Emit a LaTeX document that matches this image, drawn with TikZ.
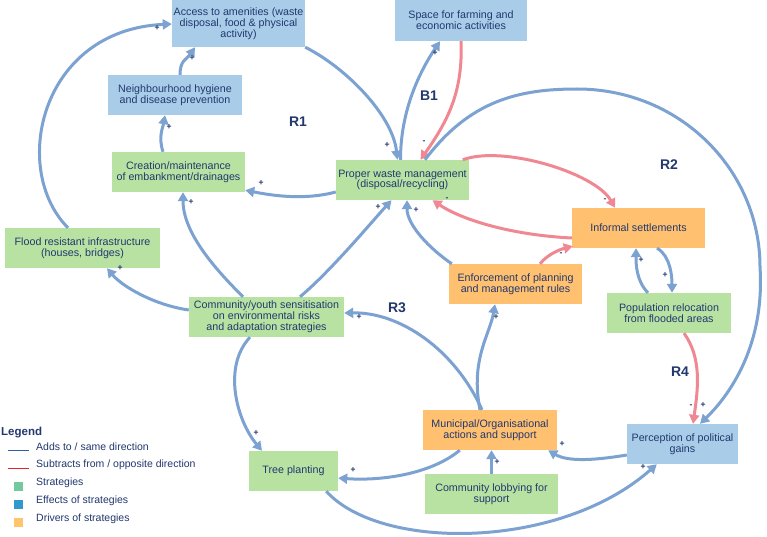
\documentclass[tikz,border=0pt]{standalone}
\usepackage{fontspec}
\setmainfont{Liberation Sans}
\usetikzlibrary{arrows.meta}
\definecolor{txtnavy}{HTML}{22386E}
\definecolor{stratgreen}{HTML}{B8E2A2}
\definecolor{effblue}{HTML}{A9CDE9}
\definecolor{drvorange}{HTML}{FFC070}
\definecolor{linkblue}{HTML}{7BA2D1}
\definecolor{linkred}{HTML}{EF8892}
\definecolor{stratkey}{HTML}{72C99E}
\definecolor{effkey}{HTML}{3398CB}
\definecolor{drvkey}{HTML}{FFC46E}
\definecolor{legblue}{HTML}{2E5FAA}
\definecolor{legred}{HTML}{E3242B}
\tikzset{
  box/.style={rectangle,inner sep=0pt,align=center,text=txtnavy,
    minimum width=133pt,minimum height=40pt,
    font=\fontsize{10.7}{10.8}\selectfont},
  strat/.style={box,fill=stratgreen},
  effect/.style={box,fill=effblue},
  driver/.style={box,fill=drvorange},
  plus/.style={-{Triangle[length=9pt,width=10pt]},line width=3pt,draw=linkblue},
  minus/.style={plus,draw=linkred},
  sgn/.style={font=\fontsize{8.5}{9}\selectfont\bfseries,text=txtnavy,inner sep=0pt},
  loopname/.style={font=\fontsize{14}{14}\selectfont\bfseries,text=txtnavy,inner sep=0pt},
  legtext/.style={anchor=west,inner sep=0pt,text=txtnavy,font=\fontsize{10.5}{11}\selectfont}
}
\begin{document}
\begin{tikzpicture}[x=1pt,y=-1pt]
\useasboundingbox[fill=white] (0,0) rectangle (767,537);
% effects
\node[effect,minimum height=47pt] (amen) at (238.5,23.5) {Access to amenities (waste\\disposal, food \& physical\\activity)};
\node[effect,minimum width=132pt,minimum height=41pt] (space) at (461,20.5) {Space for farming and\\economic activities};
\node[effect,minimum width=134pt] (hyg) at (175,95) {Neighbourhood hygiene\\and disease prevention};
\node[effect,minimum width=111pt] (percep) at (682.5,444) {Perception of political\\gains};
% strategies
\node[strat] (emb) at (178.5,172) {Creation/maintenance\\of embankment/drainages};
\node[strat] (waste) at (402.5,180) {Proper waste management\\(disposal/recycling)};
\node[strat,minimum width=155pt] (flood) at (82.5,248) {Flood resistant infrastructure\\(houses, bridges)};
\node[strat,minimum width=155pt] (youth) at (266.5,317) {Community/youth sensitisation\\on environmental risks\\and adaptation strategies};
\node[strat,minimum width=124pt] (reloc) at (669,313) {Population relocation\\from flooded areas};
\node[strat,minimum width=89pt] (tree) at (293.5,471) {Tree planting};
\node[strat] (lobby) at (491.5,494) {Community lobbying for\\support};
% drivers
\node[driver] (informal) at (638.5,228) {Informal settlements};
\node[driver] (enforce) at (515.5,284) {Enforcement of planning\\and management rules};
\node[driver,minimum width=134pt] (munic) at (490,430) {Municipal/Organisational\\actions and support};
% loop names
\node[loopname] (r1) at (298,122) {R1};
\node[loopname] (b1) at (429,96) {B1};
\node[loopname] (r2) at (669,165) {R2};
\node[loopname] (r3) at (397,308) {R3};
\node[loopname] (r4) at (680,372) {R4};
% links
\draw[plus] ([xshift=-14.5pt]flood.north) .. controls +(-58,-58) and +(-132,6) .. ([yshift=-0.5pt]amen.west);
\draw[plus] ([xshift=5pt]hyg.north) .. controls +(0,-15) and +(-8,12) .. ([xshift=-43.5pt]amen.south);
\draw[plus] ([xshift=-15.5pt]emb.north) .. controls +(-5,-15) and +(-2,12) .. ([xshift=-10pt]hyg.south);
\draw[plus] (amen.south east) .. controls +(40,20) and +(-5,-45) .. ([xshift=-5pt]waste.north);
\draw[plus] ([yshift=-12pt]waste.west) .. controls +(-30,8) and +(30,6) .. ([yshift=2pt]emb.south east);
\draw[plus] ([xshift=-23.5pt]youth.north) .. controls +(-25,-25) and +(0,42) .. ([xshift=4.5pt]emb.south);
\draw[plus] ([xshift=33.5pt]youth.north) .. controls +(30,-25) and +(-20,22) .. ([xshift=-11pt]waste.south);
\draw[plus] ([yshift=7pt]youth.west) .. controls +(-35,-5) and +(15,18) .. ([xshift=24.5pt]flood.south);
\draw[plus] ([xshift=-2pt]waste.north) .. controls +(0,-50) and +(-20,30) .. ([xshift=-21pt]space.south);
\draw[minus] (space.south) .. controls +(2,50) and +(28,-40) .. ([xshift=18pt]waste.north);
\coordinate (arctop) at (577,89);
\coordinate (arcright) at (760,267);
\draw[plus] ([xshift=22.5pt]waste.north) .. controls +(45,-60) and +(-57,0) .. (arctop)
  .. controls +(103,0) and +(0,-97) .. (arcright)
  .. controls +(5,78) and +(30,-29) .. ([xshift=17.5pt]percep.north);
\draw[minus] ([xshift=-6.5pt]waste.north east) .. controls +(40,-15) and +(-20,-35) .. ([xshift=-23.5pt]informal.north);
\draw[minus] ([yshift=-10pt]informal.west) .. controls +(-60,-3) and +(30,20) .. ([xshift=30pt]waste.south);
\draw[minus] ([xshift=24.5pt]enforce.north) .. controls +(8,-10) and +(-12,3) .. ([xshift=1pt,yshift=2pt]informal.south west);
\draw[plus] ([xshift=3pt]enforce.north west) .. controls +(-22,-15) and +(0,25) .. ([xshift=4.5pt]waste.south);
\draw[plus] ([xshift=-10pt]munic.north) .. controls +(-10,-50) and +(-5,30) .. ([xshift=-20.5pt]enforce.south);
\draw[plus] ([xshift=-8pt]munic.north) .. controls +(-27,-60) and +(56,-1) .. ([yshift=4pt]youth.east);
\draw[plus] ([xshift=-16.5pt]youth.south) .. controls +(-28,30) and +(-25,-30) .. ([xshift=-31.5pt]tree.north);
\draw[plus] ([xshift=37pt]munic.south west) .. controls +(-30,25) and +(40,3) .. ([yshift=-7pt]tree.east);
\draw[plus] (lobby.north) -- (lobby.north |- munic.south);
\draw[plus] ([yshift=-11pt]percep.west) .. controls +(-30,5) and +(20,12) .. ([xshift=-9pt]munic.south east);
\draw[plus] ([xshift=-12pt]tree.south east) .. controls +(54,60) and +(-97,86) .. ([xshift=30pt]percep.south west);
\draw[minus] ([xshift=15pt]reloc.south) .. controls +(18,25) and +(5,-35) .. ([xshift=10.5pt]percep.north);
\draw[plus] ([xshift=18.5pt]informal.south) .. controls +(14,8) and +(0,-15) .. ([xshift=3pt]reloc.north);
\draw[plus] ([xshift=-21pt]reloc.north) .. controls +(-12,-12) and +(0,15) .. ([xshift=-2.5pt]informal.south);
% polarity signs
\foreach \sx/\sy/\sg [count=\k] in {157/28/+,192/58/+,169/127/+,387/145/+,261/183/+,
  191/202/+,378/207/+,120/268/+,435/53/+,424/142/-,703/405/+,605/200/-,447/199/-,
  561/254/-,416/210/+,496/317/+,359/317/+,256/433/+,353/470/+,497/462/+,562/444/+,
  643/467/+,691/406/-,665/275/+,641/260/+}{
  \node[sgn] (sg\k) at (\sx,\sy) {\sg};}
% legend
\node[anchor=west,inner sep=0pt,text=txtnavy,font=\fontsize{11.5}{12}\selectfont\bfseries] (lgd) at (1,433) {Legend};
\draw[legblue,line width=1pt] (8,450) -- (29,450);
\node[legtext] (keyadd) at (36,447) {Adds to / same direction};
\draw[legred,line width=1pt] (8,468) -- (29,468);
\node[legtext] (keysub) at (36,465) {Subtracts from / opposite direction};
\foreach \ly/\lc/\lt [count=\k] in {483/stratkey/Strategies,501/effkey/Effects of strategies,519/drvkey/Drivers of strategies}{
  \fill[\lc] (13.5,\ly-1) rectangle (23,\ly+8);
  \node[legtext] (key\k) at (36,\ly) {\lt};}
\end{tikzpicture}
\end{document}
